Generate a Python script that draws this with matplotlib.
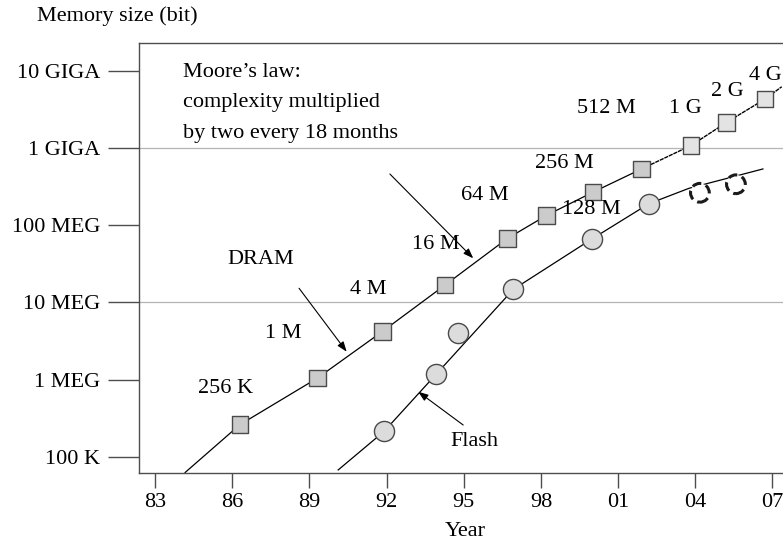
import matplotlib
matplotlib.use("Agg")
import matplotlib.pyplot as plt

plt.rcParams["font.family"] = ["Liberation Serif", "DejaVu Serif"]
plt.rcParams["font.size"] = 16

# DRAM generations: year of introduction and capacity (bits)
dram_years = [1986.30, 1989.31, 1991.83, 1994.27, 1996.69, 1998.22,
              2000.03, 2001.92, 2003.83, 2005.22, 2006.71]
dram_bits = [2**18, 2**20, 2**22, 2**24, 2**26, 2**27,
             2**28, 2**29, 2**30, 2**31, 2**32]
dram_labels = ["256 K", "1 M", "4 M", "16 M", "64 M", "128 M",
               "256 M", "512 M", "1 G", "2 G", "4 G"]

# Ends of the DRAM trend line
dram_trend_start = (1984.17, 6.3e4)
dram_trend_end = (2007.36, 6.2e9)

# Flash generations (measured) and projected ones
flash_years = [1991.90, 1993.92, 1994.79, 1996.93, 1999.97, 2002.20]
flash_bits = [2.14e5, 1.17e6, 3.98e6, 1.48e7, 6.6e7, 1.9e8]
flash_proj_years = [2004.18, 2005.58]
flash_proj_bits = [2.63e8, 3.39e8]

# Flash trend line
flash_trend_years = [1990.12, 1991.90, 1993.92, 1996.93, 1999.97,
                     2002.20, 2003.75, 2006.63]
flash_trend_bits = [6.8e4, 2.14e5, 1.17e6, 1.48e7, 6.6e7,
                    1.9e8, 3.0e8, 5.35e8]

year_ticks = [1983, 1986, 1989, 1992, 1995, 1998, 2001, 2004, 2007]
year_labels = ["83", "86", "89", "92", "95", "98", "01", "04", "07"]
size_ticks = [1e5, 1e6, 1e7, 1e8, 1e9, 1e10]
size_labels = ["100 K", "1 MEG", "10 MEG", "100 MEG", "1 GIGA", "10 GIGA"]
grid_levels = [1e7, 1e9]

# Layout: where each generation label sits (year, bits)
dram_label_pos = [(1985.74, 7.74e5), (1987.99, 3.91e6), (1991.29, 1.48e7),
                  (1993.91, 5.55e7), (1995.83, 2.46e8), (1999.98, 1.60e8),
                  (1998.90, 6.32e8), (2000.56, 3.26e9), (2003.63, 3.26e9),
                  (2005.25, 5.35e9), (2006.74, 8.79e9)]

W, H = 783, 542
fig = plt.figure(figsize=(W / 100, H / 100), dpi=100)
ax = fig.add_axes([139.3 / W, 1 - 472.7 / H, (W - 139.3) / W, (472.7 - 42.5) / H])

ax.set_yscale("log")
ax.set_xlim(1982.39, 2007.41)
ax.set_ylim(10**4.797, 10**10.365)

spine_col = "#4d4d4d"
for side in ("left", "bottom", "top"):
    ax.spines[side].set_color(spine_col)
    ax.spines[side].set_linewidth(1.0)
ax.spines["right"].set_visible(False)

for lvl in grid_levels:
    ax.axhline(lvl, color="#b4b4b4", lw=0.9, zorder=0)

ax.set_xticks(year_ticks)
ax.set_xticklabels(year_labels)
ax.set_yticks(size_ticks)
ax.set_yticklabels(size_labels)
ax.yaxis.set_minor_locator(matplotlib.ticker.NullLocator())
ax.tick_params(axis="y", direction="out", length=22.3, width=1.0,
               color=spine_col, pad=5.8, labelsize=16)
ax.tick_params(axis="x", direction="out", length=10.8, width=1.0,
               color=spine_col, pad=4.0, labelsize=16)

ax.set_xlabel("Year", fontsize=16)
ax.xaxis.set_label_coords((465 - 139.3) / (W - 139.3), -0.114)

# DRAM trend line: solid up to 512 M, finer beyond
split = dram_bits.index(2**29)
solid_x = [dram_trend_start[0]] + dram_years[:split + 1]
solid_y = [dram_trend_start[1]] + dram_bits[:split + 1]
fine_x = dram_years[split:] + [dram_trend_end[0]]
fine_y = dram_bits[split:] + [dram_trend_end[1]]
ax.plot(solid_x, solid_y, color="black", lw=0.9, zorder=2)
ax.plot(fine_x, fine_y, color="black", lw=1.0, ls=(0, (3.0, 0.6)), zorder=2)

# DRAM squares (later generations lighter)
fills = ["#e3e3e3" if b >= 2**30 else "#cbcbcb" for b in dram_bits]
ax.scatter(dram_years, dram_bits, marker="s", s=12.0**2, c=fills,
           edgecolors="#4a4a4a", linewidths=1.0, zorder=3)

for lab, (px, py) in zip(dram_labels, dram_label_pos):
    ax.text(px, py, lab, ha="center", va="center", fontsize=16, zorder=4)

# Flash trend line and circles
ax.plot(flash_trend_years, flash_trend_bits, color="black", lw=0.9, zorder=2)
ax.scatter(flash_years, flash_bits, marker="o", s=14.5**2, c="#dcdcdc",
           edgecolors="#4a4a4a", linewidths=1.0, zorder=3)
ax.scatter(flash_proj_years, flash_proj_bits, marker="o", s=13.5**2,
           facecolors="white", edgecolors="#1a1a1a", linewidths=2.2,
           linestyles=(0, (3.0, 1.6)), zorder=3)

# Annotations
arrow = dict(arrowstyle="-|>,head_length=0.6,head_width=0.22",
             lw=0.8, color="black", shrinkA=0, shrinkB=0, mutation_scale=10)
ax.text(1987.12, 10**7.55, "DRAM", ha="center", va="center", fontsize=16)
ax.annotate("", xy=(1990.45, 10**6.363), xytext=(1988.60, 10**7.184),
            arrowprops=arrow)
ax.annotate("", xy=(1995.37, 10**7.572), xytext=(1992.13, 10**8.663),
            arrowprops=arrow)
ax.text(1995.40, 10**5.198, "Flash", ha="center", va="center", fontsize=16)
ax.annotate("", xy=(1993.23, 10**5.845), xytext=(1994.98, 10**5.414),
            arrowprops=arrow)

moore = ["Moore\u2019s law:", "complexity multiplied", "by two every 18 months"]
for line, base in zip(moore, (77, 107.5, 138)):
    ax.text((183 - 139.3) / (W - 139.3), (472.7 - base) / (472.7 - 42.5), line,
            transform=ax.transAxes, ha="left", va="baseline", fontsize=16)

fig.text(37 / W, 1 - 16.5 / H, "Memory size (bit)", ha="left", va="center",
         fontsize=16)

fig.savefig("out.png", dpi=100)
